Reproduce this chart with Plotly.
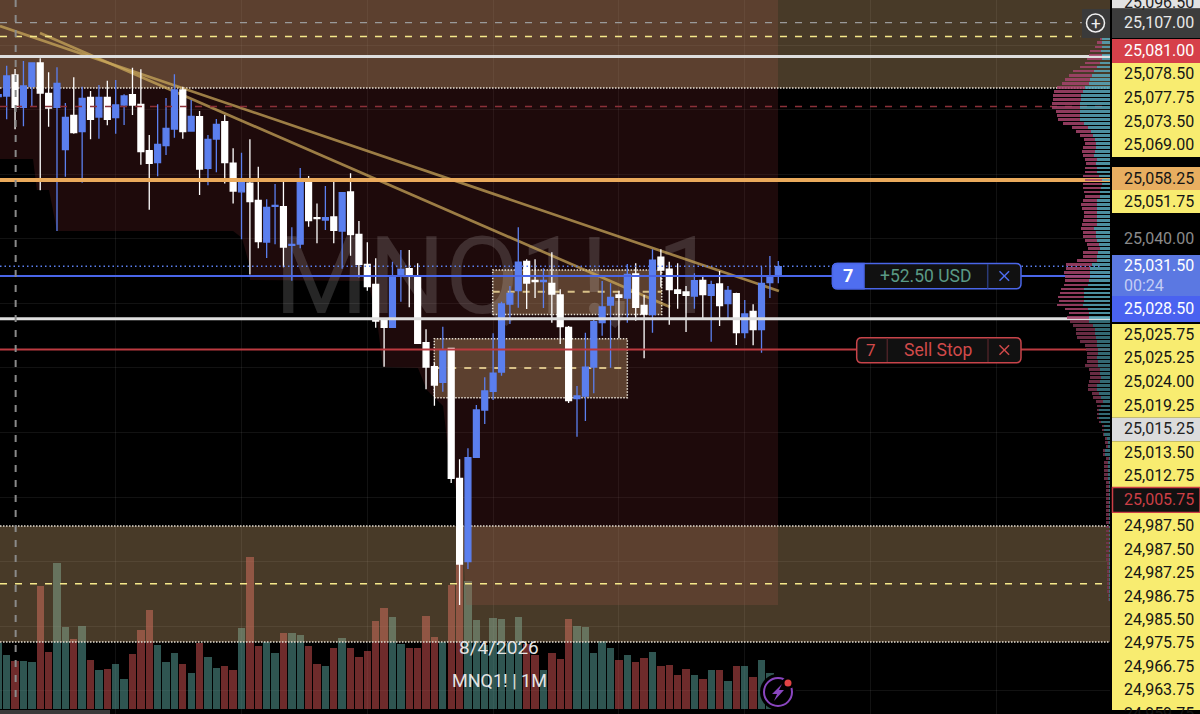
import plotly.graph_objects as go

W, H = 1200, 714

# bars -1..92, prices
bars = list(range(-1, 93))
opens = [25084.1, 25084.28, 25090.79, 25080.77, 25087.27, 25094.5, 25085.1, 25080.77, 25067.65, 25078.29,
         25073.23, 25083.87, 25077.77, 25083.87, 25077.56, 25081.49, 25084.69, 25081.7, 25067.34, 25063.62,
         25068.89, 25074.05, 25086.14, 25073.43, 25077.88, 25061.86, 25070.95, 25076.33, 25063.5, 25054.6,
         25057.3, 25051.95, 25039.04, 25050.09, 25049.98, 25038.0, 25038.41, 25057.94, 25046.57, 25045.85,
         25046.78, 25042.44, 25054.53, 25041.41, 25032.11, 25025.91, 25014.86, 25012.59,
         25028.5, 25030.77, 25027.98, 25007.83, 25000.4, 24995.54, 25006.09, 24965.8, 24939.96, 24972.3,
         24986.97, 24992.75, 24998.74, 25019.82, 25023.95, 25033.04, 25027.15, 25026.74, 25026.22, 25022.61,
         25012.59, 24990.48, 24991.31, 25000.29, 25014.03, 25019.51, 25022.61, 25021.68, 25029.12, 25019.41,
         25016.51, 25034.38, 25030.66, 25024.16, 25023.54, 25022.3, 25027.15, 25022.5, 25026.02, 25019.92,
         25023.02, 25010.93, 25017.55, 25011.86, 25026.43, 25028.6]
highs = [25085.0, 25093.68, 25092.65, 25095.13, 25094.5, 25095.95, 25091.61, 25093.16, 25082.11, 25090.06,
         25087.17, 25085.83, 25087.69, 25089.03, 25089.24, 25084.8, 25093.06, 25092.54, 25072.19, 25081.7,
         25083.66, 25091.0, 25087.17, 25083.04, 25079.63, 25072.19, 25077.15, 25078.39, 25068.06, 25066.7,
         25070.85, 25062.38, 25052.26, 25057.0, 25057.73, 25043.58, 25061.97, 25059.49, 25051.0, 25056.39,
         25057.73, 25054.32, 25060.31, 25045.54, 25038.93, 25033.97, 25014.86, 25032.94,
         25036.55, 25036.55, 25032.42, 25011.97, 25001.64, 25012.79, 25006.3, 24971.69, 24975.1, 24988.5,
         24997.09, 25010.73, 25020.54, 25025.4, 25043.58, 25033.66, 25033.66, 25030.87, 25035.83, 25024.36,
         25013.0, 24994.41, 25010.93, 25014.86, 25026.95, 25026.22, 25023.95, 25032.21, 25032.42, 25022.61,
         25036.76, 25036.76, 25032.94, 25032.42, 25025.4, 25029.32, 25028.29, 25027.05, 25030.05, 25025.4,
         25023.33, 25021.06, 25019.71, 25031.39, 25034.69, 25033.14]
lows = [25084.0, 25077.05, 25073.95, 25074.88, 25081.08, 25055.05, 25074.78, 25042.44, 25059.28, 25072.6,
        25057.42, 25070.85, 25071.06, 25075.19, 25072.6, 25075.29, 25078.39, 25063.0, 25049.05, 25059.38,
        25066.0, 25071.37, 25071.06, 25073.43, 25053.6, 25056.6, 25060.62, 25057.2, 25051.0, 25039.86,
        25029.0, 25037.07, 25034.07, 25038.31, 25031.18, 25027.05, 25037.07, 25043.79, 25038.62, 25042.75,
        25038.62, 25030.77, 25034.8, 25028.08, 25023.95, 25012.48, 25000.4, 25012.59,
        25020.54, 25018.79, 25007.42, 24993.37, 24988.31, 24992.65, 24964.35, 24926.54, 24937.7, 24972.3,
        24982.63, 24990.07, 24997.61, 25013.62, 25018.68, 25018.27, 25021.68, 25018.58, 25014.03, 25007.42,
        24989.14, 24978.7, 24983.56, 24992.13, 25010.0, 25000.09, 25009.18, 25014.03, 25014.65, 25002.98,
        25010.93, 25024.98, 25013.41, 25018.37, 25011.14, 25018.37, 25015.38, 25008.14, 25013.0, 25015.38,
        25007.11, 25009.18, 25007.01, 25004.74, 25021.68, 25026.22]
closes = [25084.7, 25090.48, 25080.77, 25087.38, 25094.5, 25085.21, 25080.56, 25088.2, 25077.67, 25072.92,
          25083.56, 25077.05, 25083.87, 25077.05, 25081.49, 25084.28, 25081.49, 25067.03, 25063.41, 25069.3,
          25074.26, 25086.14, 25073.23, 25077.98, 25061.66, 25070.85, 25075.5, 25063.62, 25054.84, 25057.5,
          25051.53, 25039.14, 25049.77, 25050.4, 25037.48, 25038.31, 25057.83, 25045.65, 25046.26, 25046.57,
          25042.65, 25054.32, 25041.31, 25032.11, 25025.19, 25014.55, 25012.59, 25028.29,
          25030.56, 25028.7, 25007.63, 25000.29, 24994.72, 25005.56, 24965.8, 24939.25, 24972.19, 24986.97,
          24992.86, 24998.43, 25019.82, 25023.12, 25032.83, 25026.33, 25026.74, 25027.15, 25022.92, 25012.79,
          24989.86, 24991.31, 25000.29, 25014.34, 25018.89, 25021.88, 25021.88, 25029.01, 25018.79, 25016.72,
          25033.45, 25030.35, 25024.26, 25023.12, 25022.5, 25027.05, 25022.71, 25025.81, 25019.3, 25024.05,
          25010.93, 25016.72, 25011.86, 25026.22, 25028.6, 25031.39]
volumes = [200, 162, 145, 145, 143, 371, 172, 438, 246, 210, 250, 147, 119, 120, 137, 91, 166, 238, 297, 193,
           143, 168, 137, 108, 200, 156, 123, 129, 117, 245, 458, 191, 203, 168, 230, 228, 222, 190, 135, 131,
           185, 214, 183, 158, 175, 264, 303, 276, 196, 184, 184, 280, 218, 203, 373, 435, 386, 268, 193, 274,
           270, 198, 276, 196, 163, 117, 168, 150, 272, 250, 247, 168, 204, 183, 148, 162, 141, 154, 172, 129,
           133, 102, 120, 102, 90, 117, 117, 85, 129, 129, 98, 148, 110, 68]

# volume profile on the right, rows from the top down
profile_top = 25102.0
profile_step = 1.25
profile_buy = [24, 25, 25, 27, 25, 25, 30, 40, 48, 55, 60, 62, 75, 80, 86, 88, 90, 90, 90, 90,
               90, 78, 67, 57, 52, 45, 43, 43, 45, 47, 40, 42, 40, 40, 32, 25, 25, 27, 30, 30,
               38, 38, 40, 38, 38, 38, 38, 48, 43, 42, 38, 33, 30, 37, 38, 38, 55, 60, 60, 60,
               63, 67, 78, 78, 78, 78, 80, 67, 62, 62, 62, 50, 45, 45, 42, 38, 38, 35, 35, 38,
               35, 35, 30, 30, 28, 30, 38, 40, 32, 27, 22, 27, 32, 32, 32, 27, 18, 18, 17, 10,
               6, 5, 15, 15, 3, 5, 5, 5, 5, 5, 4, 4, 4, 4, 4, 4, 4, 4, 4, 4,
               4, 4, 4, 4, 4, 4, 4, 4, 4, 4, 4, 4, 4, 4, 4, 4, 4, 4, 4, 4]
profile_sell = [6, 13, 20, 33, 37, 45, 45, 50, 62, 68, 75, 81, 83, 88, 84, 82, 84, 84, 73, 68,
                65, 64, 48, 45, 38, 33, 32, 37, 38, 35, 35, 30, 35, 35, 48, 50, 55, 53, 48, 45,
                44, 49, 44, 40, 40, 43, 45, 39, 38, 38, 37, 35, 36, 43, 44, 60, 77, 72, 77, 75,
                71, 71, 70, 72, 79, 75, 78, 67, 61, 66, 58, 60, 57, 57, 56, 52, 37, 37, 35, 32,
                35, 40, 32, 30, 32, 32, 27, 27, 22, 23, 21, 11, 6, 6, 6, 5, 6, 5, 3, 5,
                9, 8, 5, 5, 9, 12, 12, 13, 13, 12, 8, 9, 8, 7, 9, 8, 7, 8, 8, 9,
                8, 7, 8, 8, 9, 8, 7, 8, 8, 7, 6, 6, 5, 5, 5, 4, 4, 4, 3, 3]
profile_dim_below = 25015.5

# price levels
level_white_hi = 25096.5
level_white_lo = 25015.25
level_orange = 25058.25
level_last = 25031.5
level_entry = 25028.5
level_stop = 25005.75
level_grey_dash = 25107.0
level_yellow_hi = 25102.7
level_yellow_lo = 24933.15
level_red_dash = 25081.0

# zones
top_band = [25086.75, 25114.03]
low_band = [24915.1, 24951.0]
box_a_x = [57.95, 78.1]
box_a_y = [25016.6, 25030.35]
box_a_mid = 25023.6
box_b_x = [50.98, 74.0]
box_b_y = [24990.8, 25009.05]
box_b_mid = 25000.0
shade_x = [-0.8, 91.97, 91.97, 54.8, 54.3, 52.5, 52.03, 50.1, 49.04, 44.87, 44.15, 43.08, 29.0, 29.0, 28.06,
           27.0, 6.0, 5.05, 3.6, 3.14, -0.8, -0.8]
shade_y = [25114.03, 25114.03, 24926.54, 24926.54, 24951.02, 24977.67, 24988.2, 24993.17, 25000.0, 25000.3,
           25014.86, 25026.95, 25027.26, 25031.28, 25040.27, 25042.44, 25042.44, 25055.15, 25055.15, 25064.76,
           25064.76, 25114.03]

# trend lines
trend_a_x = [-0.8, 92.08]
trend_a_y = [25105.97, 25023.85]
trend_b_x = [3.97, 79.09]
trend_b_y = [25103.8, 25018.89]

# right scale tags
tag_labels = ["25,096.50", "25,107.00", "25,081.00", "25,078.50", "25,077.75", "25,073.50", "25,069.00",
              "25,058.25", "25,051.75", "25,040.00", "25,031.50", "00:24", "25,028.50", "25,025.75",
              "25,025.25", "25,024.00", "25,019.25", "25,015.25", "25,013.50", "25,012.75", "25,005.75",
              "24,987.50", "24,987.50", "24,987.25", "24,986.75", "24,985.50", "24,975.75", "24,966.75",
              "24,963.75", "24,959.75"]
tag_centres = [3, 23, 51, 74, 98, 121, 145, 178, 201, 239, 265, 285, 308, 334, 357, 381.5, 405, 428.7, 452,
               475.7, 499.5, 525.7, 549.3, 572.7, 596, 619.3, 642.7, 666, 689.3, 713]
tag_colours = ["#222222", "#e8e8e8", "#ffffff", "#151515", "#151515", "#151515", "#151515", "#151515", "#151515",
               "#8a8a8a", "#ffffff", "#c4cdf5", "#ffffff", "#151515", "#151515", "#151515", "#151515", "#222222",
               "#151515", "#151515", "#cc3f46", "#151515", "#151515", "#151515", "#151515", "#151515", "#151515",
               "#151515", "#151515", "#151515"]

BLUE = "#5b7fee"
WHITE = "#ffffff"
TAN = "rgba(218,176,121,0.33)"
FONT = "Roboto"

X_MIN, X_MAX = -0.795, 142.28
Y_MIN, Y_MAX = 24892.77, 25114.03
SCALE_X = 131.67  # bar where the price scale starts


def px(x):
    return x / W


def py(y):
    return 1 - y / H


def rect(x0, y0, x1, y1, fill, line=None, lw=0):
    return dict(type="rect", xref="paper", yref="paper", x0=px(x0), x1=px(x1), y0=py(y0), y1=py(y1),
                fillcolor=fill, line=dict(color=line or fill, width=lw), layer="above")


def rounded(x0, y0, x1, y1, r, fill, line=None, lw=0, left=True, right=True):
    # rounded box in screen pixels, corners can be switched off per side
    X0, X1, Y0, Y1 = px(x0), px(x1), py(y0), py(y1)
    rx, ry = r / W, r / H
    p = f"M {X0 + (rx if left else 0)} {Y0} L {X1 - (rx if right else 0)} {Y0} "
    p += f"Q {X1} {Y0} {X1} {Y0 - ry} L {X1} {Y1 + ry} Q {X1} {Y1} {X1 - rx} {Y1} " if right else f"L {X1} {Y0} L {X1} {Y1} "
    p += f"L {X0 + rx} {Y1} Q {X0} {Y1} {X0} {Y1 + ry} L {X0} {Y0 - ry} Q {X0} {Y0} {X0 + rx} {Y0} Z" if left else f"L {X0} {Y1} L {X0} {Y0} Z"
    return dict(type="path", xref="paper", yref="paper", path=p, fillcolor=fill,
                line=dict(color=line or fill, width=lw), layer="above")


def seg_px(x0, y0, x1, y1, colour, lw=1):
    return dict(type="line", xref="paper", yref="paper", x0=px(x0), x1=px(x1), y0=py(y0), y1=py(y1),
                line=dict(color=colour, width=lw), layer="above")


def cross(cx, cy, r, colour):
    return [seg_px(cx - r, cy - r, cx + r, cy + r, colour, 1.4), seg_px(cx - r, cy + r, cx + r, cy - r, colour, 1.4)]


def circle(cx, cy, r, fill, line=None, lw=0):
    return dict(type="circle", xref="paper", yref="paper", x0=px(cx - r), x1=px(cx + r), y0=py(cy - r),
                y1=py(cy + r), fillcolor=fill, line=dict(color=line or fill, width=lw), layer="above")


def text(x, y, s, colour, size, anchor="center", weight=None):
    return dict(xref="paper", yref="paper", x=px(x), y=py(y), text=s, showarrow=False, xanchor=anchor,
                yanchor="middle", font=dict(family=FONT, size=size, color=colour, weight=weight), borderpad=0)


def level(price, colour, width, dash="solid", x0=X_MIN, x1=SCALE_X, axis="y3"):
    return go.Scatter(x=[x0, x1], y=[price, price], mode="lines", yaxis=axis, hoverinfo="skip",
                      line=dict(color=colour, width=width, dash=dash))


def zone(xs, ys, colour):
    return go.Scatter(x=xs, y=ys, mode="none", fill="toself", fillcolor=colour, yaxis="y2", hoverinfo="skip")


def box(xs, ys):
    return go.Scatter(x=[xs[0], xs[1], xs[1], xs[0], xs[0]], y=[ys[0], ys[0], ys[1], ys[1], ys[0]],
                      mode="lines", fill="toself", fillcolor=TAN, yaxis="y2", hoverinfo="skip",
                      line=dict(color="#e6e0d4", width=1.5, dash="1.5px,1.5px"))


fig = go.Figure()

# volume, lowest layer so the zones tint it
vol_colours = ["rgba(79,142,135,0.6)" if c >= o else "rgba(184,72,72,0.6)" for o, c in zip(opens, closes)]
fig.add_trace(go.Bar(x=bars, y=volumes, width=0.88, marker=dict(color=vol_colours, line=dict(width=0)),
                     hoverinfo="skip"))

# zones and watermark, under the candles
fig.add_trace(zone(shade_x, shade_y, "rgba(120,40,44,0.25)"))
fig.add_trace(zone([X_MIN, SCALE_X, SCALE_X, X_MIN, X_MIN],
                   [top_band[0], top_band[0], top_band[1], top_band[1], top_band[0]], TAN))
fig.add_trace(zone([X_MIN, SCALE_X, SCALE_X, X_MIN, X_MIN],
                   [low_band[0], low_band[0], low_band[1], low_band[1], low_band[0]], TAN))
for edge in [top_band[0], low_band[0], low_band[1]]:
    fig.add_trace(level(edge, "#e6e0d4", 1.5, "1.5px,1.5px", axis="y2"))
fig.add_trace(box(box_a_x, box_a_y))
fig.add_trace(box(box_b_x, box_b_y))
fig.add_trace(level(box_a_mid, "#d8c088", 2, "7px,8px", box_a_x[0], box_a_x[1], axis="y2"))
fig.add_trace(level(box_b_mid, "#d8c088", 2, "7px,8px", box_b_x[0], box_b_x[1], axis="y2"))
fig.add_trace(go.Scatter(x=[58.3], y=[25025.4], mode="text", text=["MNQ1!, 1"], yaxis="y2", hoverinfo="skip",
                         textfont=dict(family=FONT, size=108, color="rgba(255,255,255,0.15)")))
fig.add_trace(go.Scatter(x=trend_a_x, y=trend_a_y, mode="lines", yaxis="y2", hoverinfo="skip",
                         line=dict(color="rgba(205,170,92,0.72)", width=2.7)))
fig.add_trace(go.Scatter(x=trend_b_x, y=trend_b_y, mode="lines", yaxis="y2", hoverinfo="skip",
                         line=dict(color="rgba(205,170,92,0.72)", width=2.7)))

# candles
fig.add_trace(go.Candlestick(x=bars, open=opens, high=highs, low=lows, close=closes, yaxis="y3", whiskerwidth=0,
                             hoverinfo="skip",
                             increasing=dict(line=dict(color=BLUE, width=1.3), fillcolor=BLUE),
                             decreasing=dict(line=dict(color=WHITE, width=1.3), fillcolor=WHITE)))

# levels on top of the candles
fig.add_trace(level(level_grey_dash, "#9a9a9a", 1.2, "7px,8px", x1=128.2))
fig.add_trace(level(level_yellow_hi, "#f5e88a", 1.5, "7px,8px", x1=128.0))
fig.add_trace(level(level_yellow_lo, "#f5e88a", 1.5, "7px,8px"))
fig.add_trace(level(level_red_dash, "#8a3038", 1.5, "7px,8px"))
fig.add_trace(level(level_last, BLUE, 1.5, "1.5px,3px", x1=130.5))
fig.add_trace(level(level_entry, "#4a66e8", 2))
fig.add_trace(level(level_stop, "#bc3a40", 2))
fig.add_trace(level(level_white_hi, "#dedede", 3))
fig.add_trace(level(level_white_lo, "#dedede", 3))
fig.add_trace(level(level_orange, "#eaaa5c", 4))
fig.add_trace(go.Scatter(x=[1.07, 1.07], y=[Y_MAX, 24896.2], mode="lines", yaxis="y3", hoverinfo="skip",
                         line=dict(color="#8a8a8a", width=2, dash="7px,8px")))

# volume profile, stacked out from the price scale
rows = [profile_top - profile_step * k for k in range(len(profile_buy))]
buy_colours = ["rgba(89,168,187,0.85)" if r > profile_dim_below else "rgba(60,122,134,0.85)" for r in rows]
sell_colours = ["rgba(167,68,108,0.85)" if r > profile_dim_below else "rgba(122,50,78,0.85)" for r in rows]
fig.add_trace(go.Bar(x=profile_buy, y=rows, orientation="h", width=0.85, xaxis="x2", yaxis="y3", hoverinfo="skip",
                     marker=dict(color=buy_colours, line=dict(width=0))))
fig.add_trace(go.Bar(x=profile_sell, y=rows, orientation="h", width=0.85, xaxis="x2", yaxis="y3", hoverinfo="skip",
                     marker=dict(color=sell_colours, line=dict(width=0))))

# price scale background and blocks
shapes = [
    rect(1110, 0, W, H, "#000000"),
    rect(1112, 0, W, 8.5, "#e2e2e2"),
    rect(1112, 8.5, W, 38, "#3c3c3c"),
    rect(1112, 39, W, 63, "#d6404a"),
    rect(1112, 63, W, 157, "#f8ec70"),
    rect(1112, 167, W, 190, "#e8ae60"),
    rect(1112, 190, W, 213, "#f8ec70"),
    rect(1112, 255, W, 296, "#5b78e2"),
    rect(1112, 296, W, 322, "#4a62f0"),
    rect(1112, 324, W, 417.7, "#f8ec70"),
    rect(1112, 417.7, W, 441.3, "#dcdcdc"),
    rect(1112, 441.3, W, 487, "#f8ec70"),
    rect(1112.5, 487.5, W, 512.5, "#111111", "#cc3f46", 1.5),
    rect(1112, 513, W, 710, "#f8ec70"),
    rect(0, 710, 110, H, "#3a3a3a"),
    # add-alert button
    rect(1082, 9, 1110, 38, "#3a3a3a"),
    circle(1095.5, 23, 9, "rgba(0,0,0,0)", "#f0f0f0", 1.5),
    # position pill
    rounded(832.5, 263.5, 1021, 288.8, 5, "#111111", "#4a66e8", 1.5),
    rounded(832.5, 263.5, 864, 288.8, 5, "#4f6ef0", "#4a66e8", 1.5, right=False),
    seg_px(987.7, 264, 987.7, 288.5, "#2a3a78", 1.5),
    # stop pill
    rounded(856.7, 337.7, 1021, 362.7, 5, "#111111", "#c8444a", 1.5),
    seg_px(887.3, 338.5, 887.3, 362, "#4a2226", 1.5),
    seg_px(988, 338.5, 988, 362, "#4a2226", 1.5),
    # flash icon
    circle(778, 692, 18, "#000000"),
    circle(778, 692, 14, "rgba(0,0,0,0)", "#8a46c0", 2),
    dict(type="path", xref="paper", yref="paper", layer="above", fillcolor="#8a46c0", line=dict(width=0),
         path=f"M {px(782)} {py(684)} L {px(772)} {py(694)} L {px(777)} {py(694)} L {px(774)} {py(701)} "
              f"L {px(784)} {py(690)} L {px(779)} {py(690)} Z"),
    circle(788, 683, 6, "#000000"),
    circle(788, 683, 3.5, "#e04444"),
]
shapes += cross(1004.3, 276, 4.8, "#4f6ef0")
shapes += cross(1004.3, 350, 4.8, "#d24a4a")

annotations = [text(1123, y, s, c, 16, "left") for s, y, c in zip(tag_labels, tag_centres, tag_colours)]
annotations += [
    text(1095.5, 22.5, "+", "#f0f0f0", 17),
    text(848, 276, "7", "#ffffff", 18, weight=700),
    text(926, 276, "+52.50 USD", "#5a9a85", 17.5),
    text(871.5, 350, "7", "#d24a4a", 17),
    text(937.5, 350, "Sell Stop", "#d24a4a", 17.5),
    text(499, 647.5, "8/4/2026", "#e4e4e4", 19),
    text(499.5, 680, "MNQ1! | 1M", "#e4e4e4", 18),
]

fig.update_layout(
    width=W, height=H, margin=dict(l=0, r=0, t=0, b=0), showlegend=False, autosize=False,
    paper_bgcolor="#000000", plot_bgcolor="#000000", barmode="stack", boxgap=0.3, boxgroupgap=0,
    shapes=shapes, annotations=annotations,
    xaxis=dict(range=[X_MIN, X_MAX], showgrid=True, gridcolor="rgba(255,255,255,0.07)", gridwidth=1, tick0=13,
               dtick=15, showticklabels=False, ticks="", zeroline=False, showline=False, fixedrange=True,
               rangeslider=dict(visible=False)),
    xaxis2=dict(range=[3330, -270], overlaying="x", visible=False, fixedrange=True),
    yaxis=dict(range=[-14, 2128], showgrid=False, visible=False, fixedrange=True),
    yaxis2=dict(range=[Y_MIN, Y_MAX], overlaying="y", showgrid=True, gridcolor="rgba(255,255,255,0.07)", gridwidth=1,
                tick0=25000, dtick=20, showticklabels=False, ticks="", zeroline=False, showline=False, fixedrange=True),
    yaxis3=dict(range=[Y_MIN, Y_MAX], overlaying="y", visible=False, fixedrange=True),
)

fig.write_html("out.html", config=dict(displayModeBar=False),
               post_script="document.body.style.margin='0';document.body.style.background='#000';"
                           "document.body.style.overflow='hidden';")
